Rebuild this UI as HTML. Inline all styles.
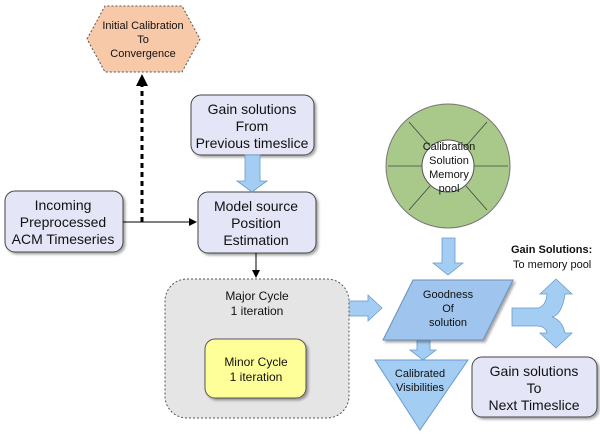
<!DOCTYPE html>
<html><head><style>body{margin:0;background:#fff}svg{display:block}text{font-family:"Liberation Sans",sans-serif;fill:#111}</style></head><body>
<svg width="600" height="434" viewBox="0 0 600 434" xmlns="http://www.w3.org/2000/svg">
<defs>
<filter id="sh" x="-10%" y="-10%" width="130%" height="130%"><feDropShadow dx="2" dy="2" stdDeviation="1.2" flood-color="#000" flood-opacity="0.35"/></filter>
<marker id="ah" markerWidth="8" markerHeight="8" refX="7" refY="4" orient="auto" markerUnits="userSpaceOnUse"><path d="M0,0 L8,4 L0,8 z" fill="#000"/></marker>
</defs>
<!-- hexagon -->
<polygon points="87,39 105,6 182,6 200,39 182,72 105,72" fill="#f8c9a9" stroke="#555" stroke-dasharray="2,2"/>
<g font-size="11" text-anchor="middle"><text x="143" y="29">Initial Calibration</text><text x="143" y="43">To</text><text x="143" y="57">Convergence</text></g>
<!-- dashed arrow -->
<line x1="142" y1="222" x2="142" y2="86" stroke="#000" stroke-width="3" stroke-dasharray="5,4"/>
<polygon points="136,86 148,86 142,74" fill="#000"/>
<!-- boxes -->
<g fill="#e5e5f8" stroke="#444" filter="url(#sh)">
<rect x="191" y="95" width="123" height="60" rx="10"/>
<rect x="198" y="192" width="118" height="61" rx="10"/>
<rect x="5" y="191" width="118" height="61" rx="10"/>
<rect x="472" y="357" width="125" height="60" rx="10"/>
</g>
<g font-size="14" text-anchor="middle">
<text x="252" y="114">Gain solutions</text><text x="252" y="131">From</text><text x="252" y="148">Previous timeslice</text>
<text x="256" y="211">Model source</text><text x="256" y="228">Position</text><text x="256" y="245">Estimation</text>
<text x="63" y="210">Incoming</text><text x="63" y="227">Preprocessed</text><text x="63" y="244">ACM Timeseries</text>
<text x="534" y="376">Gain solutions</text><text x="534" y="393">To</text><text x="534" y="410">Next Timeslice</text>
</g>
<!-- connectors -->
<line x1="123" y1="222" x2="196" y2="222" stroke="#000" marker-end="url(#ah)"/>
<line x1="256" y1="253" x2="256" y2="277" stroke="#000" marker-end="url(#ah)"/>
<!-- blue arrows -->
<g fill="#a3cdf3" stroke="#6a9bcc" stroke-width="0.8">
<polygon points="245,155 260,155 260,181 267,181 252,192 237,181 245,181"/>
<polygon points="345,301 368,301 368,295 382,308 368,321 368,316 345,316"/>
<polygon points="442,238 455,238 455,263 463,263 448,275 433,263 442,263"/>
<polygon points="417,340 430,340 430,350 436,350 423,360 410,350 417,350"/>
<path d="M512,308 L538,308 Q546,306 547,294 L540,294 L556,279 L572,294 L565,294 Q562,315 552,317 Q562,320 565,333 L572,333 L556,348 L540,333 L547,333 Q546,327 538,326 L512,326 z"/>
</g>
<!-- major cycle -->
<rect x="165" y="279" width="184" height="139" rx="22" fill="#e5e5e5" stroke="#555" stroke-dasharray="2,2"/>
<g font-size="12" text-anchor="middle"><text x="257" y="300">Major Cycle</text><text x="257" y="315">1 iteration</text></g>
<rect x="205" y="339" width="101" height="59" rx="10" fill="#ffff99" stroke="#555" filter="url(#sh)"/>
<g font-size="12" text-anchor="middle"><text x="256" y="366">Minor Cycle</text><text x="256" y="381">1 iteration</text></g>
<!-- circle -->
<circle cx="448" cy="166" r="62" fill="#a9c98b" stroke="#777"/>
<g stroke="#444" stroke-width="0.8">
<line x1="388" y1="166" x2="423" y2="166"/><line x1="473" y1="166" x2="508" y2="166"/>
<line x1="409" y1="122" x2="430" y2="146"/><line x1="487" y1="122" x2="466" y2="146"/>
<line x1="409" y1="210" x2="430" y2="186"/><line x1="487" y1="210" x2="466" y2="186"/>
</g>
<circle cx="448" cy="166" r="26" fill="#fff" stroke="#555"/>
<g font-size="11" text-anchor="middle"><text x="449" y="150">Calibration</text><text x="449" y="164">Solution</text><text x="449" y="178">Memory</text><text x="449" y="192">pool</text></g>
<!-- parallelogram -->
<polygon points="383,340 413,280 513,280 483,340" fill="#9fc4ee" stroke="#6a8fbb" filter="url(#sh)"/>
<g font-size="11" text-anchor="middle"><text x="448" y="298">Goodness</text><text x="448" y="312">Of</text><text x="448" y="326">solution</text></g>
<!-- triangle -->
<polygon points="375,360 468,360 420,430" fill="#a3cdf3" stroke="#6a9bcc"/>
<g font-size="11" text-anchor="middle"><text x="420" y="377">Calibrated</text><text x="420" y="391">Visibilities</text></g>
<!-- labels -->
<text x="511" y="253" font-size="11" font-weight="bold">Gain Solutions:</text>
<text x="513" y="268" font-size="11">To memory pool</text>
</svg>
</body></html>
